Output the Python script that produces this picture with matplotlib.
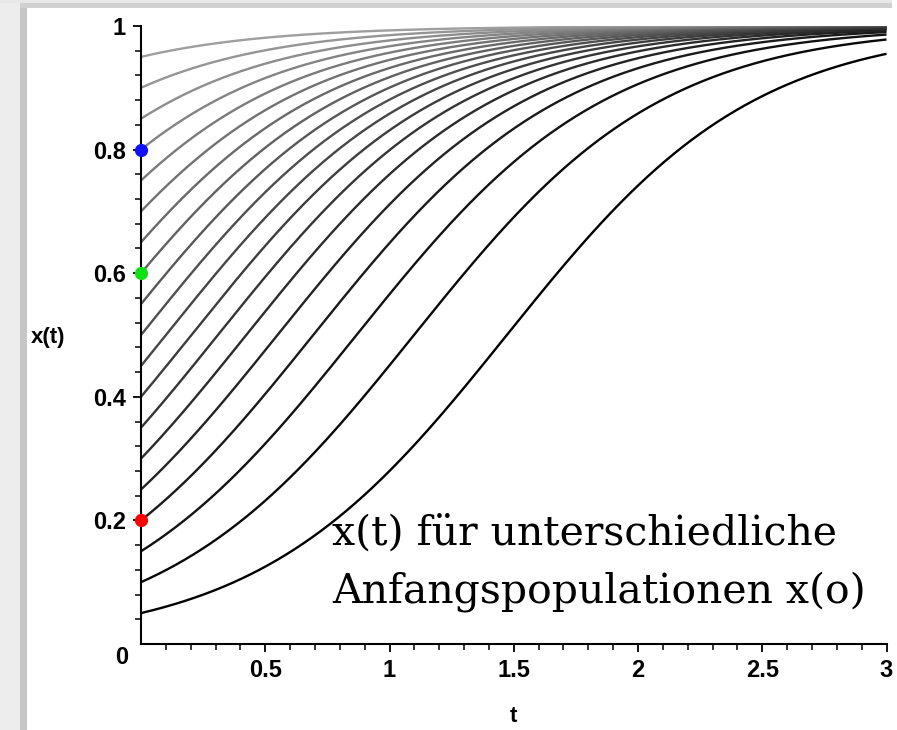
import numpy as np
import matplotlib
matplotlib.use("Agg")
import matplotlib.pyplot as plt
from matplotlib.patches import Rectangle

# ---- data ----
initial_values = [0.05, 0.10, 0.15, 0.20, 0.25, 0.30, 0.35, 0.40, 0.45, 0.50,
                  0.55, 0.60, 0.65, 0.70, 0.75, 0.80, 0.85, 0.90, 0.95]
growth_rate = 2.0
t_start, t_end = 0.0, 3.0
marked_x0 = [0.8, 0.6, 0.2]
marked_colors = ["#1010ff", "#10e010", "#ff0000"]
x_ticks = [0.5, 1, 1.5, 2, 2.5, 3]
x_tick_labels = ["0.5", "1", "1.5", "2", "2.5", "3"]
y_ticks = [0.2, 0.4, 0.6, 0.8, 1.0]
y_tick_labels = ["0.2", "0.4", "0.6", "0.8", "1"]
annotation_lines = ["x(t) für unterschiedliche", "Anfangspopulationen x(o)"]

W, H = 897, 730
fig = plt.figure(figsize=(W / 100, H / 100), dpi=100)
fig.patch.set_facecolor("white")

# picture frame bands (left and top)
def px_rect(x0, y0, x1, y1, color):
    fig.patches.append(Rectangle((x0 / W, 1 - y1 / H), (x1 - x0) / W, (y1 - y0) / H,
                                 transform=fig.transFigure, facecolor=color,
                                 edgecolor="none", zorder=0))

px_rect(0, 0, 20, H, "#ededed")
px_rect(20, 8, 27, H, "#c6c6c6")
px_rect(0, 0, 892, 3, "#e8e8e8")
px_rect(20, 3, 892, 8, "#d0d0d0")

ax_left, ax_right, ax_top, ax_bottom = 141, 886.5, 26, 644
ax = fig.add_axes([ax_left / W, 1 - ax_bottom / H, (ax_right - ax_left) / W,
                   (ax_bottom - ax_top) / H])
ax.set_facecolor("none")

t = np.linspace(t_start, t_end, 601)
n = len(initial_values)
# draw from high to low so darker curves lie on top
for i in range(n - 1, -1, -1):
    x0 = initial_values[i]
    x = 1.0 / (1.0 + (1.0 / x0 - 1.0) * np.exp(-growth_rate * t))
    g = 0.62 * i / (n - 1)
    ax.plot(t, x, color=(g, g, g), lw=1.7, solid_capstyle="butt", zorder=2)

for x0, c in zip(marked_x0, marked_colors):
    ax.plot([0], [x0], "o", ms=8.5, color=c, mec=c, clip_on=False, zorder=5)

ax.set_xlim(t_start, t_end)
ax.set_ylim(0, 1)
for s in ["top", "right"]:
    ax.spines[s].set_visible(False)
for s in ["left", "bottom"]:
    ax.spines[s].set_linewidth(1.5)
    ax.spines[s].set_color("black")

tick_font = dict(family="Liberation Sans", weight="bold", size=17)
ax.set_xticks(x_ticks)
ax.set_xticklabels(x_tick_labels, **tick_font)
ax.set_yticks(y_ticks)
ax.set_yticklabels(y_tick_labels, **tick_font)
ax.set_xticks(np.arange(0.1, 3.0, 0.1), minor=True)
ax.set_yticks(np.arange(0.04, 1.0, 0.04), minor=True)
ax.tick_params(which="major", direction="out", length=6, width=1.3, pad=5)
ax.tick_params(which="minor", direction="out", length=4, width=1.1)

fig.text(128 / W, 1 - 657 / H, "0", ha="right", va="center", **tick_font)

fig.text(48 / W, 1 - 338 / H, "x(t)", ha="center", va="center",
         family="Liberation Sans", weight="bold", size=16)
fig.text(513 / W, 1 - 716 / H, "t", ha="center", va="center",
         family="Liberation Sans", weight="bold", size=16)

for line, base in zip(annotation_lines, [545, 602]):
    fig.text(332 / W, 1 - base / H, line, ha="left", va="baseline",
             family="DejaVu Serif", size=29.5)

fig.savefig("out.png", dpi=100)
